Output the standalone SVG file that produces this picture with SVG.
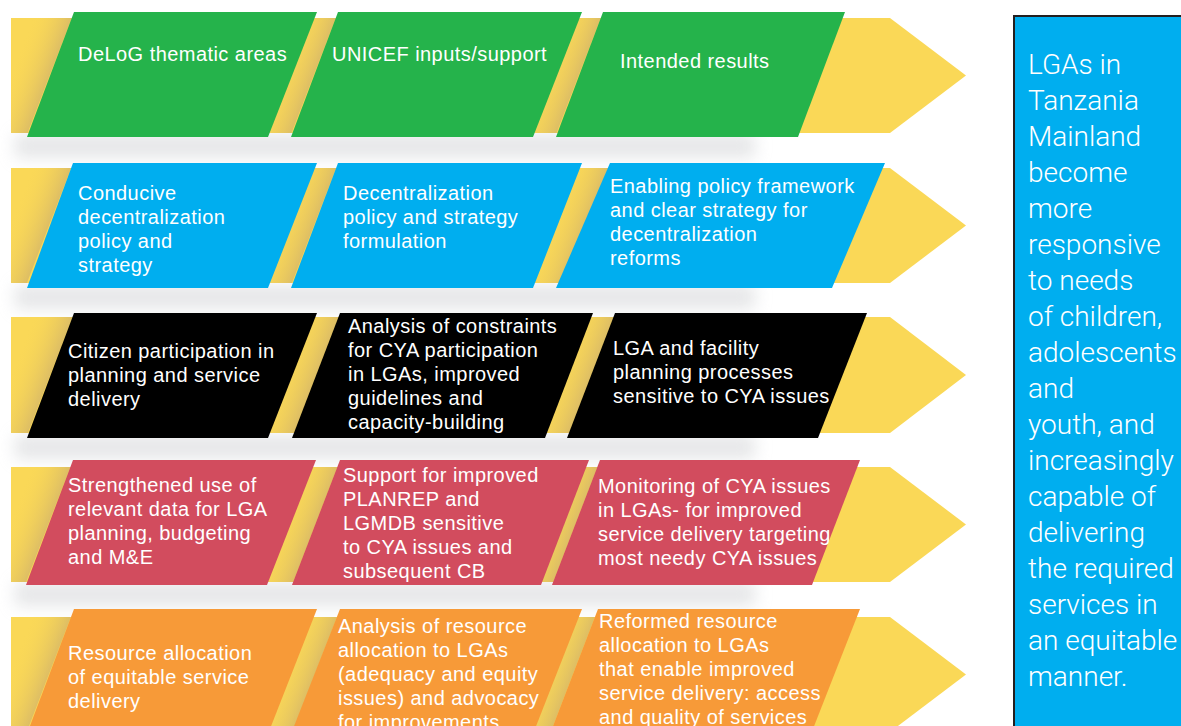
<svg xmlns="http://www.w3.org/2000/svg" xmlns:xlink="http://www.w3.org/1999/xlink" width="1181" height="726" viewBox="0 0 1181 726">
<style>
.t{font-family:"Liberation Sans",Arial,sans-serif;font-size:20px;letter-spacing:0.45px;fill:#ffffff}
.r{font-family:Roboto,"Liberation Sans",sans-serif;font-weight:300;font-size:28px;fill:#ffffff}
.band{fill:#FAD857}
.g{fill:#25B34B}.b{fill:#00AEEF}.k{fill:#000000}.red{fill:#D24C5E}.o{fill:#F79A38}
.shadow{fill:#cdcfd2;opacity:0.5;filter:url(#blur)}
</style>
<defs>
<filter id="blur" x="-10%" y="-150%" width="120%" height="400%"><feGaussianBlur stdDeviation="8"/></filter>
<linearGradient id="shg" gradientUnits="userSpaceOnUse" x1="-34.8" y1="-13.4" x2="0" y2="0">
<stop offset="0" stop-color="#FAD857" stop-opacity="0"/>
<stop offset="1" stop-color="#D8B967" stop-opacity="0.85"/>
</linearGradient>
<path id="sh" d="M-40,0 L0,0 L-48,125 L-88,125 Z" fill="url(#shg)"/>
<clipPath id="bandclip">
<rect x="11" y="18" width="900" height="115"/>
<rect x="11" y="168" width="900" height="115"/>
<rect x="11" y="317" width="900" height="116"/>
<rect x="11" y="467" width="900" height="115"/>
<rect x="11" y="617" width="900" height="115"/>
</clipPath>
</defs>
<rect width="1181" height="726" fill="#ffffff"/>
<g id="shadows">
<rect class="shadow" x="15" y="134" width="740" height="24"/>
<rect class="shadow" x="15" y="285" width="740" height="24"/>
<rect class="shadow" x="15" y="435" width="740" height="24"/>
<rect class="shadow" x="15" y="582" width="740" height="24"/>
</g>
<g id="bands">
<polygon class="band" points="11,18 890,18 966,75.5 890,133 11,133"/>
<polygon class="band" points="11,168 890,168 966,225.5 890,283 11,283"/>
<polygon class="band" points="11,317 890,317 966,375 890,433 11,433"/>
<polygon class="band" points="11,467 890,467 966,524.5 890,582 11,582"/>
<polygon class="band" points="11,617 890,617 966,674.5 890,732 11,732"/>
<g clip-path="url(#bandclip)">
<use xlink:href="#sh" transform="translate(74,12)"/>
<use xlink:href="#sh" transform="translate(338,12)"/>
<use xlink:href="#sh" transform="translate(603,12)"/>
<use xlink:href="#sh" transform="translate(73,163)"/>
<use xlink:href="#sh" transform="translate(338,163)"/>
<use xlink:href="#sh" transform="translate(610,163)"/>
<use xlink:href="#sh" transform="translate(74,313)"/>
<use xlink:href="#sh" transform="translate(340,313)"/>
<use xlink:href="#sh" transform="translate(615,313)"/>
<use xlink:href="#sh" transform="translate(73,460)"/>
<use xlink:href="#sh" transform="translate(340,460)"/>
<use xlink:href="#sh" transform="translate(600,460)"/>
<use xlink:href="#sh" transform="translate(74,609)"/>
<use xlink:href="#sh" transform="translate(340,609)"/>
<use xlink:href="#sh" transform="translate(598,609)"/>
</g>
</g>
<g id="connectors"></g>
<!-- Row 1 -->
<g id="r1c1"><polygon class="g" points="74,12 317,12 268,137 27,137"/>
<text class="t" x="78" y="61">DeLoG thematic areas</text></g>
<g id="r1c2"><polygon class="g" points="338,12 582,12 533,137 291,137"/>
<text class="t" x="332" y="61">UNICEF inputs/support</text></g>
<g id="r1c3"><polygon class="g" points="603,12 845,12 798,137 556,137"/>
<text class="t" x="620" y="68">Intended results</text></g>
<!-- Row 2 -->
<g id="r2c1"><polygon class="b" points="73,163 317,163 268,288 27,288"/>
<text class="t" x="78" y="200">Conducive</text><text class="t" x="78" y="224">decentralization</text><text class="t" x="78" y="248">policy and</text><text class="t" x="78" y="272">strategy</text></g>
<g id="r2c2"><polygon class="b" points="338,163 582,163 533,288 291,288"/>
<text class="t" x="343" y="200">Decentralization</text><text class="t" x="343" y="224">policy and strategy</text><text class="t" x="343" y="248">formulation</text></g>
<g id="r2c3"><polygon class="b" points="610,163 885,163 832,288 556,288"/>
<text class="t" x="610" y="193">Enabling policy framework</text><text class="t" x="610" y="217">and clear strategy for</text><text class="t" x="610" y="241">decentralization</text><text class="t" x="610" y="265">reforms</text></g>
<!-- Row 3 -->
<g id="r3c1"><polygon class="k" points="74,313 317,313 268,438 27,438"/>
<text class="t" x="68" y="358">Citizen participation in</text><text class="t" x="68" y="382">planning and service</text><text class="t" x="68" y="406">delivery</text></g>
<g id="r3c2"><polygon class="k" points="340,313 593,313 545,438 292,438"/>
<text class="t" x="348" y="333">Analysis of constraints</text><text class="t" x="348" y="357">for CYA participation</text><text class="t" x="348" y="381">in LGAs, improved</text><text class="t" x="348" y="405">guidelines and</text><text class="t" x="348" y="429">capacity-building</text></g>
<g id="r3c3"><polygon class="k" points="615,313 867,313 818,438 567,438"/>
<text class="t" x="613" y="355">LGA and facility</text><text class="t" x="613" y="379">planning processes</text><text class="t" x="613" y="403">sensitive to CYA issues</text></g>
<!-- Row 4 -->
<g id="r4c1"><polygon class="red" points="73,460 316,460 267,585 26,585"/>
<text class="t" x="68" y="492">Strengthened use of</text><text class="t" x="68" y="516">relevant data for LGA</text><text class="t" x="68" y="540">planning, budgeting</text><text class="t" x="68" y="564">and M&amp;E</text></g>
<g id="r4c2"><polygon class="red" points="340,460 589,460 541,585 292,585"/>
<text class="t" x="343" y="482">Support for improved</text><text class="t" x="343" y="506">PLANREP and</text><text class="t" x="343" y="530">LGMDB sensitive</text><text class="t" x="343" y="554">to CYA issues and</text><text class="t" x="343" y="578">subsequent CB</text></g>
<g id="r4c3"><polygon class="red" points="600,460 860,460 812,585 552,585"/>
<text class="t" x="598" y="493">Monitoring of CYA issues</text><text class="t" x="598" y="517">in LGAs- for improved</text><text class="t" x="598" y="541">service delivery targeting</text><text class="t" x="598" y="565">most needy CYA issues</text></g>
<!-- Row 5 -->
<g id="r5c1"><polygon class="o" points="74,609 317,609 268,734 27,734"/>
<text class="t" x="68" y="660">Resource allocation</text><text class="t" x="68" y="684">of equitable service</text><text class="t" x="68" y="708">delivery</text></g>
<g id="r5c2"><polygon class="o" points="340,609 582,609 533,734 291,734"/>
<text class="t" x="338" y="633">Analysis of resource</text><text class="t" x="338" y="657">allocation to LGAs</text><text class="t" x="338" y="681">(adequacy and equity</text><text class="t" x="338" y="705">issues) and advocacy</text><text class="t" x="338" y="729">for improvements</text></g>
<g id="r5c3"><polygon class="o" points="598,609 860,609 811,734 550,734"/>
<text class="t" x="599" y="628">Reformed resource</text><text class="t" x="599" y="652">allocation to LGAs</text><text class="t" x="599" y="676">that enable improved</text><text class="t" x="599" y="700">service delivery: access</text><text class="t" x="599" y="724">and quality of services</text></g>
<!-- Outcome box -->
<g id="outcome">
<rect x="1014" y="16" width="180" height="720" fill="#00AEEF" stroke="#231F20" stroke-width="2"/>
<text class="r" x="1028" y="74">LGAs in</text>
<text class="r" x="1028" y="110">Tanzania</text>
<text class="r" x="1028" y="146">Mainland</text>
<text class="r" x="1028" y="182">become</text>
<text class="r" x="1028" y="218">more</text>
<text class="r" x="1028" y="254">responsive</text>
<text class="r" x="1028" y="290">to needs</text>
<text class="r" x="1028" y="326">of children,</text>
<text class="r" x="1028" y="362">adolescents</text>
<text class="r" x="1028" y="398">and</text>
<text class="r" x="1028" y="434">youth, and</text>
<text class="r" x="1028" y="470">increasingly</text>
<text class="r" x="1028" y="506">capable of</text>
<text class="r" x="1028" y="542">delivering</text>
<text class="r" x="1028" y="578">the required</text>
<text class="r" x="1028" y="614">services in</text>
<text class="r" x="1028" y="650">an equitable</text>
<text class="r" x="1028" y="686">manner.</text>
</g>
</svg>
